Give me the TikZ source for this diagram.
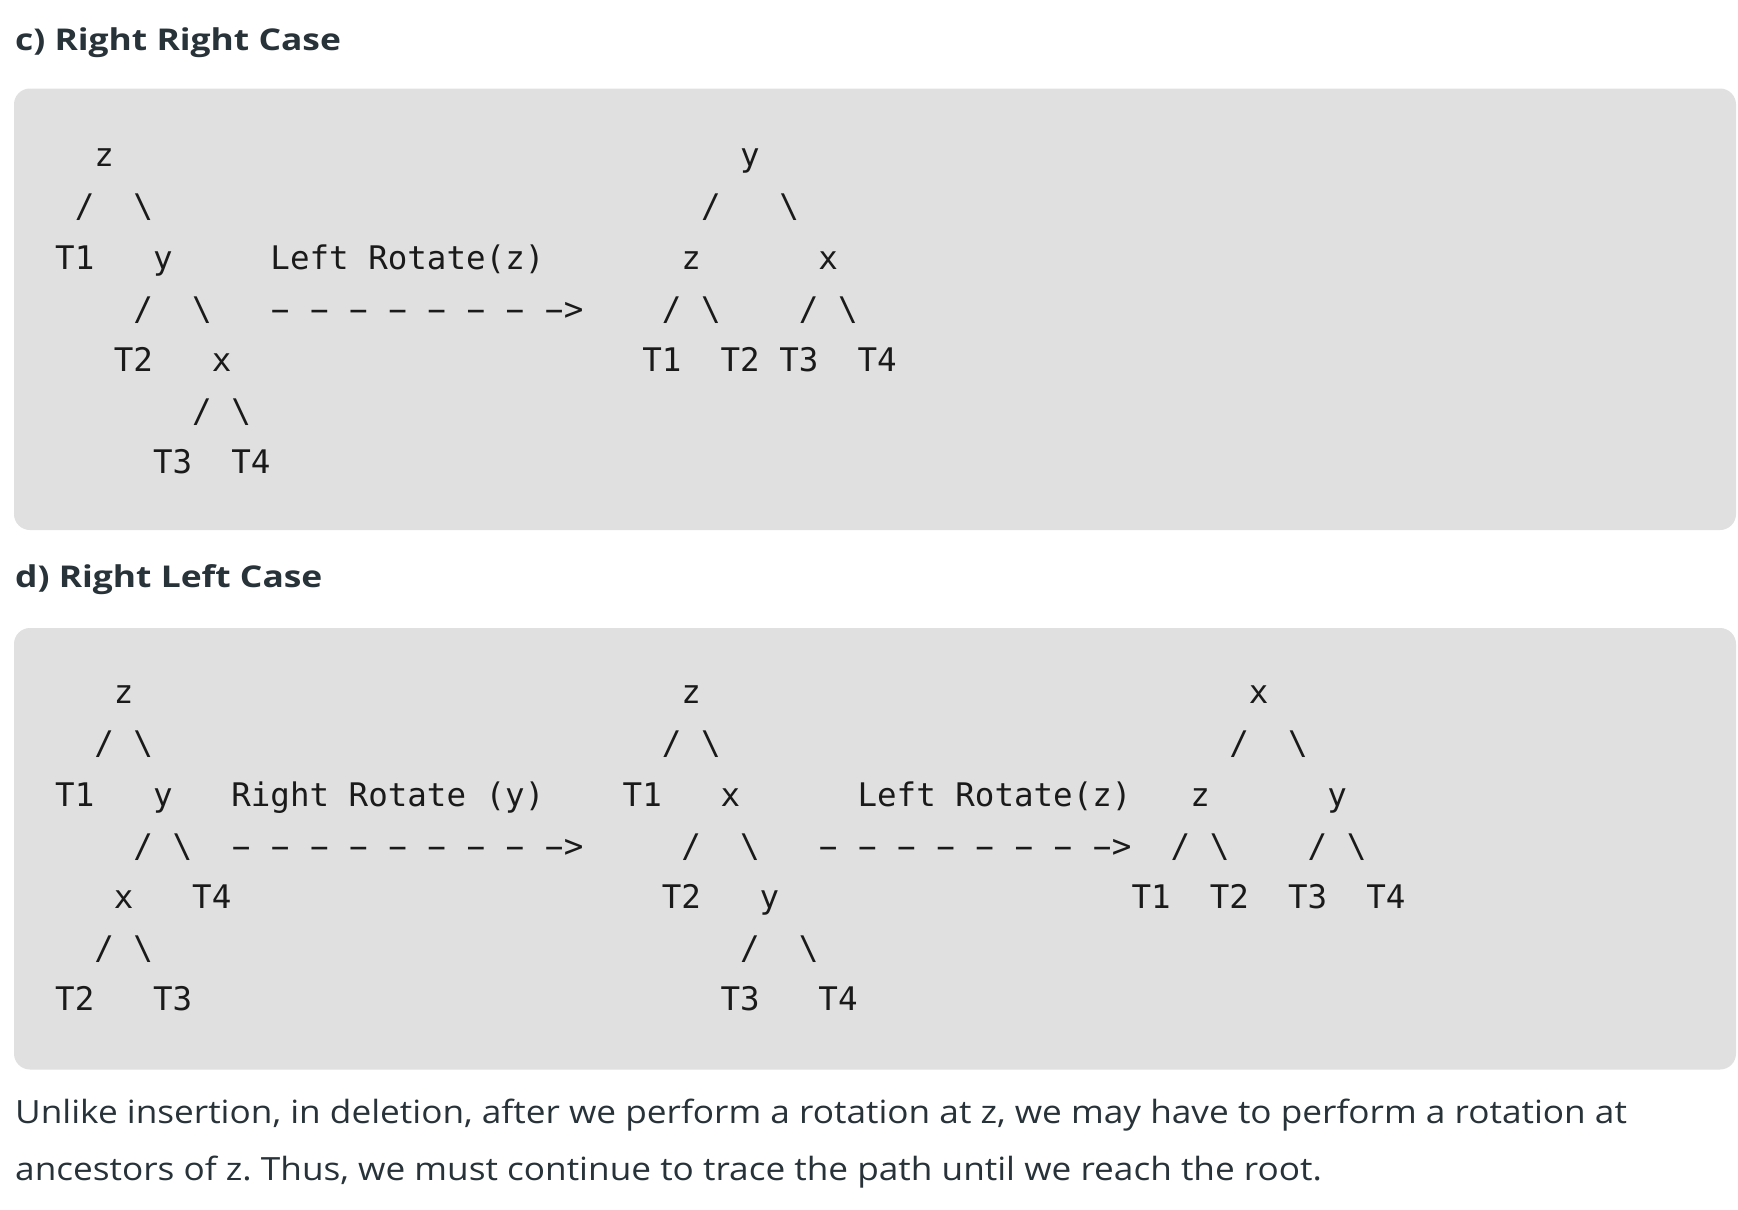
\documentclass[tikz,border=0pt]{standalone}
\usepackage{graphicx}
\usepackage{fontspec}
\setmainfont{Open Sans}[FakeStretch=1.1]
\newfontfamily\headfont{Open Sans}[FakeStretch=1.18]
\newfontfamily\codefont{DejaVu Sans Mono}
\definecolor{boxgray}{HTML}{E0E0E0}
\definecolor{inkdark}{HTML}{273239}
\definecolor{codeink}{HTML}{1A1A1A}
\frenchspacing
\newcommand\bs{\textbackslash}
\newcommand\hy{\makebox[0.602em]{\scalebox{1.9}[1]{-}}}
\newcommand\dashline[1]{\foreach\i in {1,...,#1}{\hy\ }\hy>}

\begin{document}
\begin{tikzpicture}[x=1pt,y=-1pt,tok/.style={anchor=base west,inner sep=0pt,font={\codefont\fontsize{32.5}{39}\selectfont},text=codeink},head/.style={anchor=base west,inner sep=0pt,font={\headfont\bfseries\fontsize{30}{36}\selectfont},text=inkdark},para/.style={anchor=base west,inner sep=0pt,font={\fontsize{32}{40}\selectfont},text=inkdark},codebox/.style={fill=boxgray,rounded corners=16pt}]
\def\cw{19.57};
\def\lh{-51.1};

\fill[white] (0,0) rectangle (1738,1210);
\useasboundingbox (0,0) rectangle (1738,1210);

% c) right right case
\node[head] (titleC) at (15,50.5) {c) Right Right Case};
\fill[codebox] (14,88.5) rectangle (1736,530);

\begin{scope}[shift={(55,166.8)},x=\cw pt,y=\lh pt]
\node[tok] (cz) at (2,0) {z};
\node[tok] (czl) at (1,1) {/};
\node[tok] (czr) at (4,1) {\bs};
\node[tok] (cT1) at (0,2) {T1};
\node[tok] (cy) at (5,2) {y};
\node[tok] (cyl) at (4,3) {/};
\node[tok] (cyr) at (7,3) {\bs};
\node[tok] (cT2) at (3,4) {T2};
\node[tok] (cx) at (8,4) {x};
\node[tok] (cxl) at (7,5) {/};
\node[tok] (cxr) at (9,5) {\bs};
\node[tok] (cT3) at (5,6) {T3};
\node[tok] (cT4) at (9,6) {T4};

\node[tok] (cRot) at (11,2) {Left Rotate(z)};
\node[tok] (cArr) at (11,3) {\dashline{7}};

\node[tok] (cy2) at (35,0) {y};
\node[tok] (cyl2) at (33,1) {/};
\node[tok] (cyr2) at (37,1) {\bs};
\node[tok] (cz2) at (32,2) {z};
\node[tok] (cx2) at (39,2) {x};
\node[tok] (czl2) at (31,3) {/};
\node[tok] (czr2) at (33,3) {\bs};
\node[tok] (cxl2) at (38,3) {/};
\node[tok] (cxr2) at (40,3) {\bs};
\node[tok] (cT12) at (30,4) {T1};
\node[tok] (cT22) at (34,4) {T2};
\node[tok] (cT32) at (37,4) {T3};
\node[tok] (cT42) at (41,4) {T4};
\end{scope}

% d) right left case
\node[head] (titleD) at (15,587.5) {d) Right Left Case};
\fill[codebox] (14,628) rectangle (1736,1069.5);

\begin{scope}[shift={(55,703.8)},x=\cw pt,y=\lh pt]
\node[tok] (dz) at (3,0) {z};
\node[tok] (dzl) at (2,1) {/};
\node[tok] (dzr) at (4,1) {\bs};
\node[tok] (dT1) at (0,2) {T1};
\node[tok] (dy) at (5,2) {y};
\node[tok] (dyl) at (4,3) {/};
\node[tok] (dyr) at (6,3) {\bs};
\node[tok] (dx) at (3,4) {x};
\node[tok] (dT4) at (7,4) {T4};
\node[tok] (dxl) at (2,5) {/};
\node[tok] (dxr) at (4,5) {\bs};
\node[tok] (dT2) at (0,6) {T2};
\node[tok] (dT3) at (5,6) {T3};

\node[tok] (dRot) at (9,2) {Right Rotate (y)};
\node[tok] (dArr) at (9,3) {\dashline{8}};

\node[tok] (dz2) at (32,0) {z};
\node[tok] (dzl2) at (31,1) {/};
\node[tok] (dzr2) at (33,1) {\bs};
\node[tok] (dT12) at (29,2) {T1};
\node[tok] (dx2) at (34,2) {x};
\node[tok] (dxl2) at (32,3) {/};
\node[tok] (dxr2) at (35,3) {\bs};
\node[tok] (dT22) at (31,4) {T2};
\node[tok] (dy2) at (36,4) {y};
\node[tok] (dyl2) at (35,5) {/};
\node[tok] (dyr2) at (38,5) {\bs};
\node[tok] (dT32) at (34,6) {T3};
\node[tok] (dT42) at (39,6) {T4};

\node[tok] (dRot2) at (41,2) {Left Rotate(z)};
\node[tok] (dArr2) at (39,3) {\dashline{7}};

\node[tok] (dx3) at (61,0) {x};
\node[tok] (dxl3) at (60,1) {/};
\node[tok] (dxr3) at (63,1) {\bs};
\node[tok] (dz3) at (58,2) {z};
\node[tok] (dy3) at (65,2) {y};
\node[tok] (dzl3) at (57,3) {/};
\node[tok] (dzr3) at (59,3) {\bs};
\node[tok] (dyl3) at (64,3) {/};
\node[tok] (dyr3) at (66,3) {\bs};
\node[tok] (dT13) at (55,4) {T1};
\node[tok] (dT23) at (59,4) {T2};
\node[tok] (dT33) at (63,4) {T3};
\node[tok] (dT43) at (67,4) {T4};
\end{scope}

% note below
\node[para] (note1) at (15,1123) {Unlike insertion, in deletion, after we perform a rotation at z, we may have to perform a rotation at};
\node[para] (note2) at (15,1180) {ancestors of z. Thus, we must continue to trace the path until we reach the root.};
\end{tikzpicture}
\end{document}
